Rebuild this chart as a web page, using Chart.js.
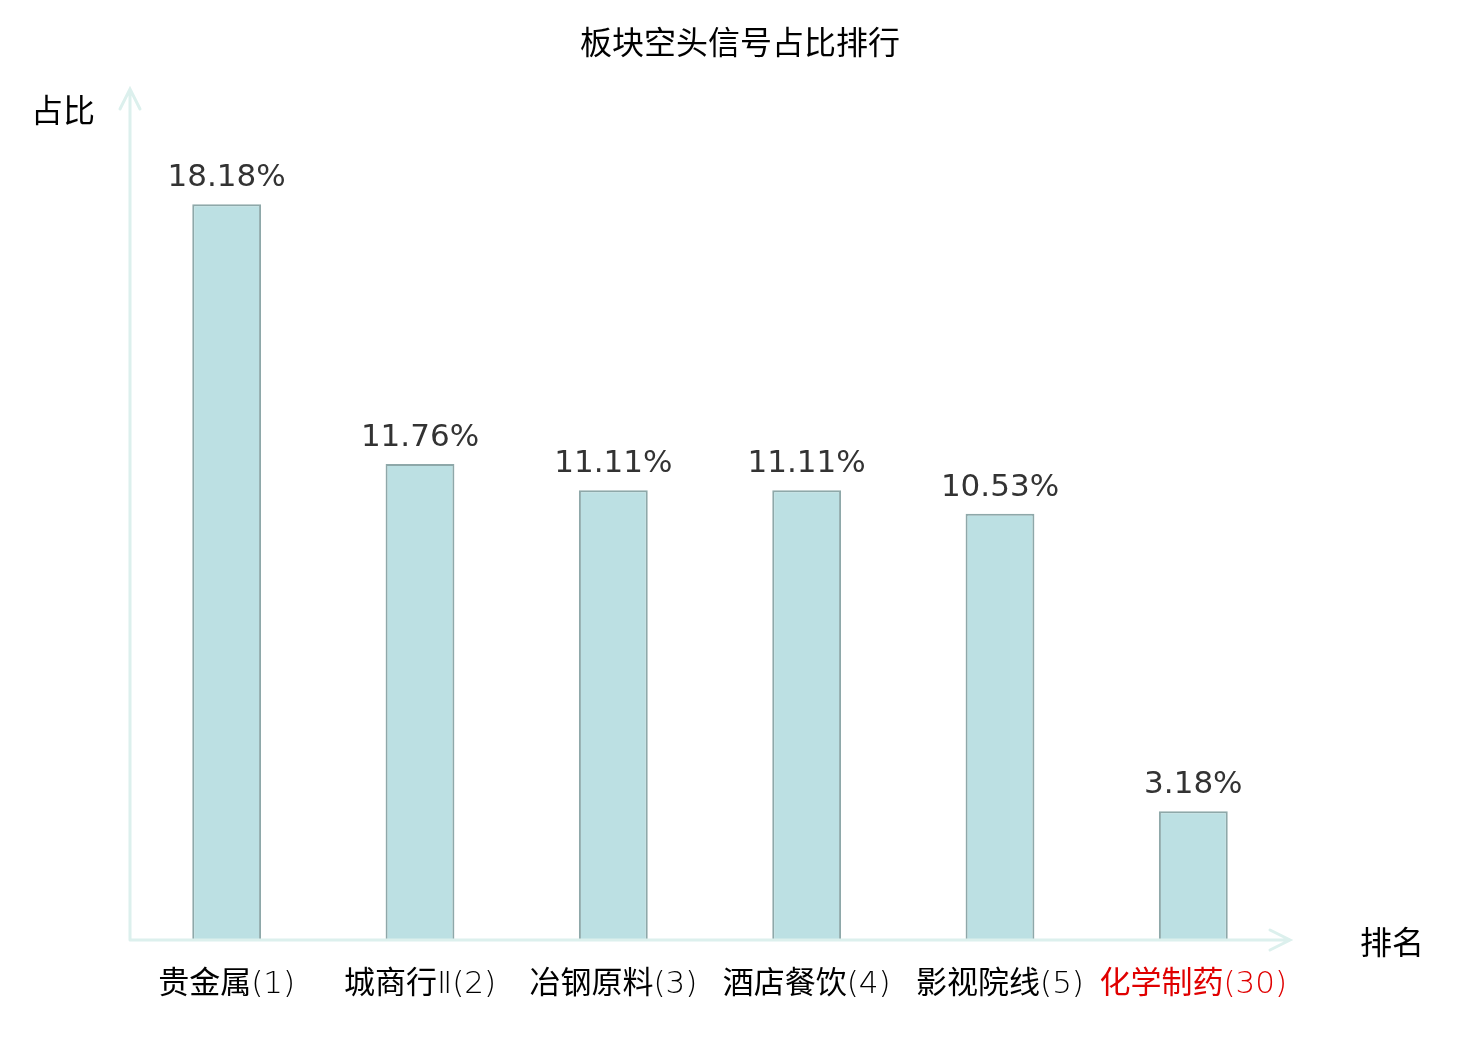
<!DOCTYPE html>
<html>
<head>
<meta charset="utf-8">
<script src="https://cdn.jsdelivr.net/npm/chart.js@4"></script>
<style>
  body { margin: 0; background: #fff; }
</style>
</head>
<body>
<canvas id="chart" width="1480" height="1040"></canvas>
<script>
const categories = ["贵金属(1)", "城商行Ⅱ(2)", "冶钢原料(3)", "酒店餐饮(4)", "影视院线(5)", "化学制药(30)"];
const shares = [18.18, 11.76, 11.11, 11.11, 10.53, 3.18];
const tickColors = ["#000", "#000", "#000", "#000", "#000", "#e00000"];

const cjkFont = "'Noto Sans CJK SC', 'Noto Sans', sans-serif";
const axisColor = "#dcf0ed";

// title, axis lines with arrows, axis names, category labels and value labels
const decorations = {
  id: "decorations",
  afterDatasetsDraw(chart) {
    const { ctx, chartArea, scales } = chart;
    const { left, right, top, bottom } = chartArea;
    ctx.save();
    ctx.strokeStyle = axisColor;
    ctx.lineWidth = 3;
    ctx.lineCap = "round";
    ctx.beginPath();
    ctx.moveTo(left, bottom);
    ctx.lineTo(left, top - 1);
    ctx.moveTo(left - 10, top + 19);
    ctx.lineTo(left, top - 1);
    ctx.lineTo(left + 10, top + 19);
    ctx.moveTo(left, bottom);
    ctx.lineTo(right, bottom);
    ctx.moveTo(right - 20, bottom - 10);
    ctx.lineTo(right, bottom);
    ctx.lineTo(right - 20, bottom + 10);
    ctx.stroke();

    ctx.fillStyle = "#000";
    ctx.font = "32px " + cjkFont;
    ctx.textBaseline = "middle";
    ctx.textAlign = "center";
    ctx.fillText("板块空头信号占比排行", 740, 42);
    ctx.fillText("占比", 63, 110);
    ctx.fillText("排名", 1392, 942);

    // category labels: Chinese part regular, rank part thin
    const cjkPart = "31px " + cjkFont;
    const rankPart = "200 31px 'DejaVu Sans', sans-serif";
    ctx.textAlign = "left";
    ctx.textBaseline = "alphabetic";
    categories.forEach((label, i) => {
      const m = label.match(/^([^\x00-\x7F\u2160-\u216F]+)(.*)$/);
      ctx.font = cjkPart;
      const w1 = ctx.measureText(m[1]).width;
      ctx.font = rankPart;
      const w2 = ctx.measureText(m[2]).width;
      const x0 = scales.x.getPixelForValue(i) - (w1 + w2) / 2;
      ctx.fillStyle = tickColors[i];
      ctx.font = cjkPart;
      ctx.fillText(m[1], x0, 993);
      ctx.font = rankPart;
      ctx.fillText(m[2], x0 + w1, 993);
    });

    ctx.fillStyle = "#333";
    ctx.textAlign = "center";
    ctx.font = "31px 'DejaVu Sans', sans-serif";
    const meta = chart.getDatasetMeta(0);
    meta.data.forEach((bar, i) => {
      ctx.fillText(shares[i].toFixed(2) + "%", bar.x, bar.y - 18);
    });
    ctx.restore();
  }
};

new Chart(document.getElementById("chart"), {
  type: "bar",
  data: {
    labels: categories,
    datasets: [{
      data: shares,
      backgroundColor: "#bce0e3",
      borderColor: "#8ea8a9",
      borderWidth: 2,
      barPercentage: 0.356,
      categoryPercentage: 1
    }]
  },
  options: {
    responsive: false,
    animation: false,
    layout: { padding: { left: 130, right: 190, top: 90, bottom: 100 } },
    plugins: {
      legend: { display: false },
      tooltip: { enabled: false },
      title: { display: false }
    },
    scales: {
      x: {
        grid: { display: false, drawTicks: false, tickLength: 0 },
        border: { display: false },
        ticks: { display: false }
      },
      y: {
        display: false,
        min: 0,
        max: 21
      }
    }
  },
  plugins: [decorations]
});
</script>
</body>
</html>
